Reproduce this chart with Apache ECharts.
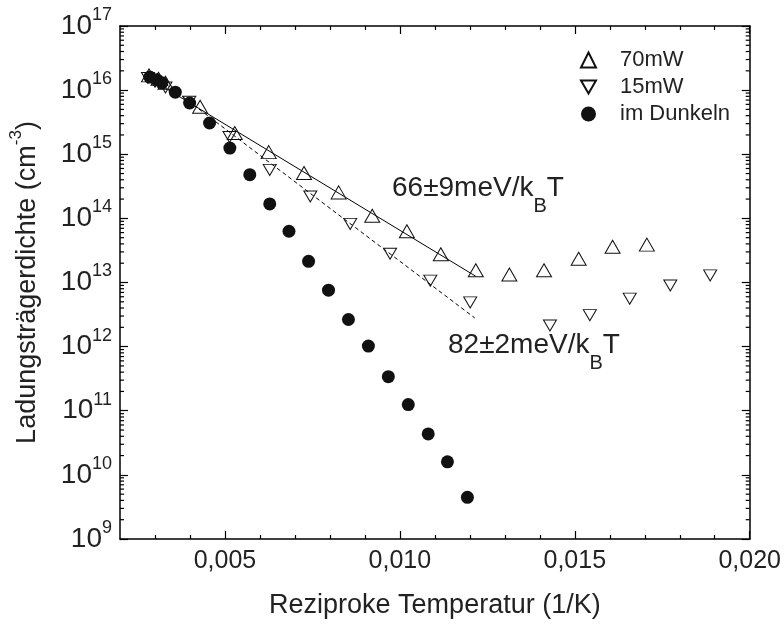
<!DOCTYPE html>
<html><head><meta charset="utf-8">
<script src="https://cdn.jsdelivr.net/npm/echarts@6/dist/echarts.min.js"></script>
<style>html,body{margin:0;padding:0;background:#fff}#c{width:784px;height:624px}</style>
</head><body><div id="c"></div>
<script>
// ---- data ----
const xMajorTicks = [0.005, 0.010, 0.015, 0.020];
const xMinorTicks = [0.003, 0.004, 0.006, 0.007, 0.008, 0.009, 0.011, 0.012, 0.013, 0.014, 0.016, 0.017, 0.018, 0.019];
const yDecades = [1e9, 1e10, 1e11, 1e12, 1e13, 1e14, 1e15, 1e16, 1e17];
const yMinorFactors = [2, 3, 4, 5, 6, 7, 8, 9];

const names = ['70mW', '15mW', 'im Dunkeln'];

const p70mW = [
  [0.00283, 1.7e16], [0.00310, 1.5e16], [0.00330, 1.3e16], [0.00429, 5.5e15],
  [0.00528, 2.14e15], [0.00625, 1.08e15], [0.00726, 5.1e14], [0.00825, 2.54e14],
  [0.00921, 1.1e14], [0.01020, 6.3e13], [0.01117, 2.76e13], [0.01217, 1.55e13],
  [0.01313, 1.33e13], [0.01412, 1.55e13], [0.01511, 2.34e13], [0.01608, 3.6e13],
  [0.01706, 3.9e13]
];
const p15mW = [
  [0.00280, 1.55e16], [0.00300, 1.35e16], [0.00330, 1.1e16], [0.00398, 6.6e15],
  [0.00513, 1.86e15], [0.00628, 5.7e14], [0.00744, 2.2e14], [0.00858, 8.2e13],
  [0.00972, 2.8e13], [0.01087, 1.07e13], [0.01201, 4.9e12], [0.01429, 2.14e12],
  [0.01543, 3.1e12], [0.01657, 5.6e12], [0.01773, 9.0e12], [0.01887, 1.29e13]
];
const pDark = [
  [0.00285, 1.6e16], [0.00305, 1.45e16], [0.00320, 1.3e16], [0.00358, 9.3e15],
  [0.00399, 6.3e15], [0.00456, 3.07e15], [0.00514, 1.25e15], [0.00571, 4.8e14],
  [0.00628, 1.68e14], [0.00683, 6.3e13], [0.00739, 2.14e13], [0.00796, 7.6e12],
  [0.00853, 2.65e12], [0.00910, 1.02e12], [0.00967, 3.4e11], [0.01024, 1.25e11],
  [0.01081, 4.35e10], [0.01136, 1.6e10], [0.01193, 4.46e9]
];
const fit70 = [[0.0028, 1.57e16], [0.01217, 1.25e13]];
const fit15 = [[0.0033, 1.26e16], [0.01214, 2.8e12]];
const label70 = '66±9meV/k';
const label15 = '82±2meV/k';

// ---- chart ----
const FONT = 'Liberation Sans, Arial, sans-serif';
const TXT = '#222';
const X_MIN = 0.002, X_MAX = 0.020;
const DOWN_TRI = 'path://M0,0L20,0L10,17.3Z';
const yMinorValues = [];
yDecades.slice(0, -1).forEach(d => yMinorFactors.forEach(f => yMinorValues.push([X_MIN, f * d])));

const chart = echarts.init(document.getElementById('c'), null, {renderer: 'canvas'});

const AXW = 1.5;
const baseX = {type: 'value', min: X_MIN, max: X_MAX, splitLine: {show: false}};
const baseY = {type: 'log', logBase: 10, min: 1e9, max: 1e17, splitNumber: 8,
  splitLine: {show: false}, minorTick: {show: false}};

const annRich = {
  a: {fontSize: 28, fontFamily: FONT, fontWeight: 'normal', color: TXT, lineHeight: 34},
  b: {fontSize: 20, fontFamily: FONT, fontWeight: 'normal', color: TXT, padding: [36, 0, 0, 0]}
};

const option = {
  animation: false,
  backgroundColor: '#fff',
  grid: {left: 118, right: 34, top: 26, bottom: 84, containLabel: false},
  title: [
    {text: '{a|' + label70 + '}{b|B}{a|T}', left: 392, top: 160, padding: 0,
      textStyle: {fontWeight: 'normal', rich: annRich}},
    {text: '{a|' + label15 + '}{b|B}{a|T}', left: 448, top: 317, padding: 0,
      textStyle: {fontWeight: 'normal', rich: annRich}}
  ],
  xAxis: [
    Object.assign({}, baseX, {
      position: 'bottom',
      axisLine: {show: true, lineStyle: {color: '#000', width: AXW}},
      axisTick: {show: true, inside: true, length: 8, customValues: xMajorTicks, lineStyle: {color: '#000', width: 1.2}},
      axisLabel: {show: true, customValues: xMajorTicks, margin: 10, color: TXT, fontSize: 25, fontFamily: FONT,
        formatter: v => v.toFixed(3).replace('.', ',')},
      name: 'Reziproke Temperatur (1/K)', nameLocation: 'middle', nameGap: 53,
      nameTextStyle: {color: TXT, fontSize: 27, fontFamily: FONT}
    }),
    Object.assign({}, baseX, {
      position: 'bottom',
      axisLine: {show: false},
      axisTick: {show: true, inside: true, length: 4, customValues: xMinorTicks, lineStyle: {color: '#000', width: 1.2}},
      axisLabel: {show: false}
    }),
    Object.assign({}, baseX, {
      position: 'top',
      axisLine: {show: true, lineStyle: {color: '#000', width: AXW}},
      axisTick: {show: true, inside: true, length: 8, customValues: xMajorTicks, lineStyle: {color: '#000', width: 1.2}},
      axisLabel: {show: false}
    }),
    Object.assign({}, baseX, {
      position: 'top',
      axisLine: {show: false},
      axisTick: {show: true, inside: true, length: 4, customValues: xMinorTicks, lineStyle: {color: '#000', width: 1.2}},
      axisLabel: {show: false}
    })
  ],
  yAxis: [
    Object.assign({}, baseY, {
      position: 'left',
      axisLine: {show: true, lineStyle: {color: '#000', width: AXW}},
      axisTick: {show: true, inside: true, length: 8, customValues: yDecades, lineStyle: {color: '#000', width: 1.2}},
      axisLabel: {show: true, customValues: yDecades, margin: 8, color: TXT, fontFamily: FONT,
        formatter: v => '{b|10}{s|' + Math.round(Math.log10(v)) + '}',
        rich: {
          b: {fontSize: 28, fontFamily: FONT, color: TXT, lineHeight: 40, verticalAlign: 'middle'},
          s: {fontSize: 18, fontFamily: FONT, color: TXT, lineHeight: 24, verticalAlign: 'top'}
        }},
      name: 'Ladungsträgerdichte (cm{s|-3})', nameLocation: 'middle', nameGap: 72,
      nameTextStyle: {color: TXT, fontSize: 27, fontFamily: FONT, lineHeight: 40,
        rich: {s: {fontSize: 17, fontFamily: FONT, color: TXT, lineHeight: 24, verticalAlign: 'top'}}}
    }),
    Object.assign({}, baseY, {
      position: 'right',
      axisLine: {show: true, lineStyle: {color: '#000', width: AXW}},
      axisTick: {show: true, inside: true, length: 8, customValues: yDecades, lineStyle: {color: '#000', width: 1.2}},
      axisLabel: {show: false}
    })
  ],
  legend: {
    data: names.map(n => ({name: n})),
    orient: 'vertical', left: 575, top: 44,
    itemWidth: 15, itemHeight: 15, itemGap: 5,
    textStyle: {fontSize: 22, fontFamily: FONT, color: TXT, padding: [0, 0, 0, 19]}
  },
  series: [
    {type: 'custom', name: 'yminor', xAxisIndex: 0, yAxisIndex: 0, silent: true, clip: false,
      data: yMinorValues,
      renderItem: (params, api) => {
        const v = api.value(1);
        const l = api.coord([X_MIN, v]);
        const r = api.coord([X_MAX, v]);
        return {type: 'group', children: [
          {type: 'line', shape: {x1: l[0], y1: l[1], x2: l[0] + 4, y2: l[1]}, style: {stroke: '#000', lineWidth: 1.2}},
          {type: 'line', shape: {x1: r[0], y1: r[1], x2: r[0] - 4, y2: r[1]}, style: {stroke: '#000', lineWidth: 1.2}}
        ]};
      }},
    {type: 'line', name: 'fit70', data: fit70, showSymbol: false, symbol: 'none', silent: true,
      lineStyle: {color: '#000', width: 1, type: 'solid'}, z: 1},
    {type: 'line', name: 'fit15', data: fit15, showSymbol: false, symbol: 'none', silent: true,
      lineStyle: {color: '#000', width: 1, type: [4, 3]}, z: 1},
    {type: 'scatter', name: names[0], data: p70mW, symbol: 'triangle', symbolSize: [15, 13],
      itemStyle: {color: 'rgba(255,255,255,0)', borderColor: '#111', borderWidth: 1, opacity: 1}, z: 3},
    {type: 'scatter', name: names[1], data: p15mW, symbol: DOWN_TRI, symbolSize: [13, 11],
      itemStyle: {color: 'rgba(255,255,255,0)', borderColor: '#111', borderWidth: 1, opacity: 1}, z: 3},
    {type: 'scatter', name: names[2], data: pDark, symbol: 'circle', symbolSize: 13,
      itemStyle: {color: '#111', opacity: 1}, z: 4}
  ]
};
chart.setOption(option);
</script>
</body></html>
